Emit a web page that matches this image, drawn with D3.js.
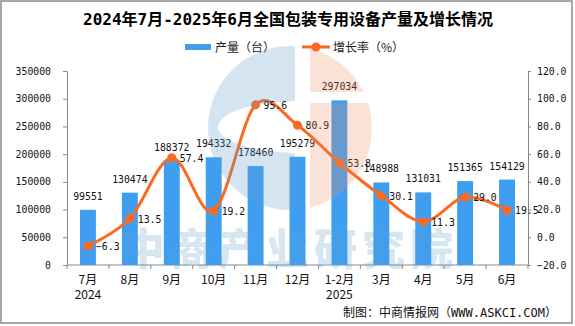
<!DOCTYPE html>
<html>
<head>
<meta charset="utf-8">
<script src="https://cdn.jsdelivr.net/npm/d3@7"></script>
<style>
  html, body { margin: 0; padding: 0; background: #fff; }
  svg { display: block; }
</style>
</head>
<body>
<div id="chart"></div>
<script>
// Monthly output of packaging machinery (units) with year-on-year growth (%)
const months = ['7月', '8月', '9月', '10月', '11月', '12月', '1-2月', '3月', '4月', '5月', '6月'];
const years = ['2024', '', '', '', '', '', '2025', '', '', '', ''];
const output = [99551, 130474, 188372, 194332, 178460, 195279, 297034, 148988, 131031, 151365, 154129];
const growth = [-6.3, 13.5, 57.4, 19.2, 95.6, 80.9, 53.8, 30.1, 11.3, 29.0, 19.5];
const outputTicks = [0, 50000, 100000, 150000, 200000, 250000, 300000, 350000];
const growthTicks = [-20, 0, 20, 40, 60, 80, 100, 120];

const W = 575, H = 326;
const margin = { top: 71, right: 47, bottom: 61, left: 67 };
const BAR_COLOR = '#409ef1';
const LINE_COLOR = '#f96a22';
const AXIS_COLOR = '#888';
const NUM_FONT = "'DejaVu Sans Mono', 'Noto Sans CJK SC', monospace";
const CJK_FONT = "'Noto Sans CJK SC', sans-serif";

const svg = d3.select('#chart').append('svg')
    .attr('width', W).attr('height', H);

// outer frame
svg.append('rect')
    .attr('x', 1).attr('y', 1).attr('width', W - 4).attr('height', H - 4)
    .attr('fill', '#fff').attr('stroke', '#8a8a8a').attr('stroke-width', 1.5);

// title
svg.append('text')
    .attr('x', 288).attr('y', 25)
    .attr('text-anchor', 'middle')
    .attr('font-family', "'DejaVu Sans Mono', 'Noto Sans CJK SC'")
    .attr('font-weight', 'bold').attr('font-size', 16)
    .attr('fill', '#000')
    .text('2024年7月-2025年6月全国包装专用设备产量及增长情况');

// legend
const legend = svg.append('g').attr('font-family', CJK_FONT).attr('font-size', 12).attr('fill', '#222');
legend.append('rect').attr('x', 185).attr('y', 44).attr('width', 26).attr('height', 6).attr('fill', BAR_COLOR);
legend.append('text').attr('x', 215).attr('y', 51.5).text('产量（台）');
legend.append('line').attr('x1', 302).attr('x2', 330).attr('y1', 47).attr('y2', 47)
    .attr('stroke', LINE_COLOR).attr('stroke-width', 3);
legend.append('circle').attr('cx', 316).attr('cy', 47).attr('r', 4.5).attr('fill', LINE_COLOR);
legend.append('text').attr('x', 333).attr('y', 51.5).text('增长率（%）');

// scales
const x = d3.scaleBand()
    .domain(months)
    .range([margin.left, W - margin.right])
    .padding(0);
const barW = x.bandwidth() * 0.38;

const yL = d3.scaleLinear()
    .domain([0, 350000])
    .range([H - margin.bottom, margin.top]);

const yR = d3.scaleLinear()
    .domain([-20, 120])
    .range([H - margin.bottom, margin.top]);

// translucent logo and name, drawn over the plot later
const defs = svg.append('defs');
const logoC = { x: 290, y: 128, r: 82 };

const hole = defs.append('mask').attr('id', 'logo-hole');
hole.append('rect').attr('width', W).attr('height', H).attr('fill', '#fff');
hole.append('ellipse').attr('cx', 302).attr('cy', 127).attr('rx', 84).attr('ry', 26).attr('fill', '#000');

defs.append('clipPath').attr('id', 'logo-left')
    .append('rect').attr('x', 0).attr('y', 0).attr('width', 295).attr('height', H);

const gap = defs.append('mask').attr('id', 'logo-gap');
gap.append('rect').attr('width', W).attr('height', H).attr('fill', '#fff');
gap.append('rect').attr('x', 0).attr('y', 92).attr('width', W).attr('height', 11).attr('fill', '#000');

defs.append('clipPath').attr('id', 'logo-right')
    .append('rect').attr('x', 310).attr('y', 0).attr('width', W - 310).attr('height', H);

// axes
const styleAxis = g => {
    g.selectAll('.domain').attr('stroke', AXIS_COLOR);
    g.selectAll('.tick line').attr('stroke', AXIS_COLOR);
    g.selectAll('text').attr('font-family', NUM_FONT).attr('font-size', 9.8).attr('fill', '#111');
};

svg.append('g')
    .attr('transform', `translate(${margin.left},0)`)
    .call(d3.axisLeft(yL).tickValues(outputTicks).tickSize(4).tickSizeOuter(0).tickPadding(12)
        .tickFormat(d3.format('d')))
    .call(styleAxis);

svg.append('g')
    .attr('transform', `translate(${W - margin.right},0)`)
    .call(d3.axisRight(yR).tickValues(growthTicks).tickSize(3).tickSizeOuter(0).tickPadding(6)
        .tickFormat(d3.format('.1f')))
    .call(styleAxis);

// category axis: ticks sit on the band boundaries
const xAxis = svg.append('g').attr('transform', `translate(0,${H - margin.bottom})`);
xAxis.append('line')
    .attr('x1', margin.left).attr('x2', W - margin.right)
    .attr('stroke', AXIS_COLOR);
xAxis.selectAll('.tick')
    .data(months.concat(['end']))
    .join('line')
    .attr('class', 'tick')
    .attr('x1', (d, i) => margin.left + i * x.step())
    .attr('x2', (d, i) => margin.left + i * x.step())
    .attr('y1', 0).attr('y2', 4)
    .attr('stroke', AXIS_COLOR);
xAxis.selectAll('.mlab')
    .data(months)
    .join('text')
    .attr('class', 'mlab')
    .attr('x', d => x(d) + x.bandwidth() / 2)
    .attr('y', 19)
    .attr('text-anchor', 'middle')
    .attr('font-family', CJK_FONT).attr('font-size', 12).attr('fill', '#111')
    .text(d => d);
xAxis.selectAll('.ylab')
    .data(years.map((yr, i) => ({ yr, m: months[i] })).filter(d => d.yr))
    .join('text')
    .attr('class', 'ylab')
    .attr('x', d => x(d.m) + x.bandwidth() / 2)
    .attr('y', 34)
    .attr('text-anchor', 'middle')
    .attr('font-family', CJK_FONT).attr('font-size', 12).attr('fill', '#111')
    .text(d => d.yr);

// bars
const rows = months.map((m, i) => ({ m, out: output[i], g: growth[i] }));

svg.append('g').selectAll('rect')
    .data(rows)
    .join('rect')
    .attr('x', d => x(d.m) + (x.bandwidth() - barW) / 2)
    .attr('y', d => yL(d.out))
    .attr('width', barW)
    .attr('height', d => yL(0) - yL(d.out))
    .attr('fill', BAR_COLOR);

svg.append('g').selectAll('text')
    .data(rows)
    .join('text')
    .attr('x', d => x(d.m) + x.bandwidth() / 2)
    .attr('y', d => yL(d.out) - 10)
    .attr('text-anchor', 'middle')
    .attr('font-family', NUM_FONT).attr('font-size', 9.8).attr('fill', '#111')
    .text(d => d.out);

// growth line
const cx = d => x(d.m) + x.bandwidth() / 2;
const line = d3.line()
    .x(cx)
    .y(d => yR(d.g))
    .curve(d3.curveCardinal);

svg.append('path').datum(rows)
    .attr('fill', 'none')
    .attr('stroke', LINE_COLOR)
    .attr('stroke-width', 3)
    .attr('d', line);

svg.append('g').selectAll('circle')
    .data(rows)
    .join('circle')
    .attr('cx', cx)
    .attr('cy', d => yR(d.g))
    .attr('r', 4.5)
    .attr('fill', LINE_COLOR);

svg.append('g').selectAll('text')
    .data(rows)
    .join('text')
    .attr('x', d => cx(d) + 8)
    .attr('y', d => yR(d.g) + 4)
    .attr('font-family', NUM_FONT).attr('font-size', 9.8).attr('fill', '#111')
    .text(d => d3.format('.1f')(d.g));

// overlay
const mark = svg.append('g').attr('pointer-events', 'none');
mark.append('g').attr('clip-path', 'url(#logo-left)')
    .append('circle')
    .attr('cx', logoC.x).attr('cy', logoC.y).attr('r', logoC.r)
    .attr('mask', 'url(#logo-hole)')
    .attr('fill', '#5c9ccc').attr('opacity', 0.26);
mark.append('g').attr('clip-path', 'url(#logo-right)')
    .append('circle')
    .attr('cx', logoC.x).attr('cy', logoC.y).attr('r', logoC.r)
    .attr('mask', 'url(#logo-gap)')
    .attr('fill', '#f08a5c').attr('opacity', 0.24);
mark.append('text')
    .attr('x', 290).attr('y', 265)
    .attr('text-anchor', 'middle')
    .attr('letter-spacing', 5)
    .attr('font-family', CJK_FONT).attr('font-weight', 900).attr('font-size', 43)
    .attr('fill', '#5c9ccc').attr('opacity', 0.24)
    .text('中商产业研究院');

// credit line
svg.append('text')
    .attr('x', 557).attr('y', 317)
    .attr('text-anchor', 'end')
    .attr('font-family', "'DejaVu Sans Mono', 'Noto Sans CJK SC'")
    .attr('font-size', 12).attr('fill', '#111')
    .text('制图：中商情报网（WWW.ASKCI.COM）');
</script>
</body>
</html>
